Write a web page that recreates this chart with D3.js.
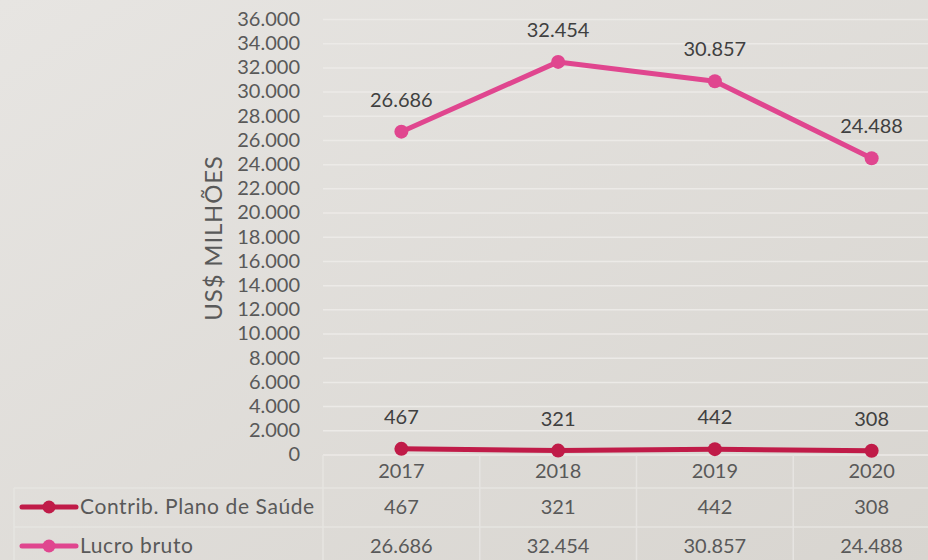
<!DOCTYPE html>
<html>
<head>
<meta charset="utf-8">
<script src="https://cdn.jsdelivr.net/npm/d3@7"></script>
<style>
  html, body { margin: 0; padding: 0; background: #dedbd6; }
  svg { display: block; font-family: Lato, "Open Sans", sans-serif; }
</style>
</head>
<body>
<svg id="chart" width="928" height="560"></svg>
<script>
const years = ["2017", "2018", "2019", "2020"];
const contrib = [467, 321, 442, 308];
const lucro = [26686, 32454, 30857, 24488];
const yTicks = [0, 2000, 4000, 6000, 8000, 10000, 12000, 14000, 16000, 18000,
  20000, 22000, 24000, 26000, 28000, 30000, 32000, 34000, 36000];

const series = [
  { name: "Contrib. Plano de Saúde", values: contrib, color: "#c01b48" },
  { name: "Lucro bruto", values: lucro, color: "#e0468f" }
];

const locale = d3.formatLocale({
  decimal: ",", thousands: ".", grouping: [3], currency: ["US$", ""]
});
const fmt = locale.format(",d");

const W = 928, H = 560;
const svg = d3.select("#chart");

// background
const defs = svg.append("defs");
const grad = defs.append("linearGradient")
  .attr("id", "bg")
  .attr("x1", "0").attr("y1", "0")
  .attr("x2", "1").attr("y2", "1");
grad.append("stop").attr("offset", "0").attr("stop-color", "#e7e5e2");
grad.append("stop").attr("offset", "1").attr("stop-color", "#d8d5d0");
svg.append("rect")
  .attr("width", W).attr("height", H)
  .attr("fill", "url(#bg)");

const x = d3.scaleBand()
  .domain(years)
  .range([323, 950])
  .padding(0);

const y = d3.scaleLinear()
  .domain([0, 36000])
  .range([454.5, 19]);

const cx = d => x(d) + x.bandwidth() / 2;

// gridlines
svg.append("g")
  .attr("transform", "translate(323,0)")
  .call(
    d3.axisRight(y)
      .tickValues(yTicks)
      .tickSize(W - 323)
      .tickFormat("")
  )
  .call(g => g.select(".domain").remove())
  .call(g => g.selectAll("line")
    .attr("stroke", "#eceae7")
    .attr("stroke-width", 1.5));

// y labels
svg.append("g")
  .attr("transform", "translate(323,0)")
  .call(
    d3.axisLeft(y)
      .tickValues(yTicks)
      .tickSize(0)
      .tickPadding(23)
      .tickFormat(fmt)
  )
  .call(g => g.select(".domain").remove())
  .call(g => g.selectAll("text")
    .attr("fill", "#595959")
    .attr("font-size", 20)
    .attr("font-family", "Lato, sans-serif"));

// y title
svg.append("text")
  .attr("transform", "translate(222,238) rotate(-90)")
  .attr("text-anchor", "middle")
  .attr("fill", "#595959")
  .attr("font-size", 24)
  .attr("letter-spacing", 0.8)
  .text("US$ MILHÕES");

// data table lines
const tableLine = "#e6e4e1";
const rowTop = [488, 527];
svg.selectAll(".row-line")
  .data(rowTop)
  .enter()
  .append("line")
  .attr("x1", 14).attr("x2", W)
  .attr("y1", d => d).attr("y2", d => d)
  .attr("stroke", tableLine)
  .attr("stroke-width", 1.5);

svg.append("line")
  .attr("x1", 14).attr("x2", 14)
  .attr("y1", 488).attr("y2", H)
  .attr("stroke", tableLine)
  .attr("stroke-width", 1.5);

svg.selectAll(".col-line")
  .data(years)
  .enter()
  .append("line")
  .attr("x1", d => x(d)).attr("x2", d => x(d))
  .attr("y1", 455).attr("y2", H)
  .attr("stroke", tableLine)
  .attr("stroke-width", 1.5);

// year labels
svg.selectAll(".year")
  .data(years)
  .enter()
  .append("text")
  .attr("x", cx)
  .attr("y", 478)
  .attr("text-anchor", "middle")
  .attr("fill", "#595959")
  .attr("font-size", 20)
  .text(d => d);

// lines and markers
const line = d3.line()
  .x((v, i) => cx(years[i]))
  .y(v => y(v));

series.forEach(s => {
  svg.append("path")
    .datum(s.values)
    .attr("d", line)
    .attr("fill", "none")
    .attr("stroke", s.color)
    .attr("stroke-width", 5)
    .attr("stroke-linejoin", "round");

  svg.selectAll(null)
    .data(s.values)
    .enter()
    .append("circle")
    .attr("cx", (v, i) => cx(years[i]))
    .attr("cy", v => y(v))
    .attr("r", 7)
    .attr("fill", s.color);

  svg.selectAll(null)
    .data(s.values)
    .enter()
    .append("text")
    .attr("x", (v, i) => cx(years[i]))
    .attr("y", v => y(v) - 25)
    .attr("text-anchor", "middle")
    .attr("fill", "#404040")
    .attr("font-size", 20)
    .text(v => fmt(v));
});

// table rows with legend keys
const rowMid = [507, 546];
series.forEach((s, r) => {
  const g = svg.append("g");
  g.append("line")
    .attr("x1", 22).attr("x2", 76)
    .attr("y1", rowMid[r]).attr("y2", rowMid[r])
    .attr("stroke", s.color)
    .attr("stroke-width", 5)
    .attr("stroke-linecap", "round");
  g.append("circle")
    .attr("cx", 49).attr("cy", rowMid[r])
    .attr("r", 6.5)
    .attr("fill", s.color);
  g.append("text")
    .attr("x", 80)
    .attr("y", rowMid[r] + 7)
    .attr("fill", "#595959")
    .attr("font-size", 21)
    .attr("letter-spacing", 0.6)
    .text(s.name);

  g.selectAll(null)
    .data(s.values)
    .enter()
    .append("text")
    .attr("x", (v, i) => cx(years[i]))
    .attr("y", rowMid[r] + 7)
    .attr("text-anchor", "middle")
    .attr("fill", "#595959")
    .attr("font-size", 20)
    .text(v => fmt(v));
});
</script>
</body>
</html>
